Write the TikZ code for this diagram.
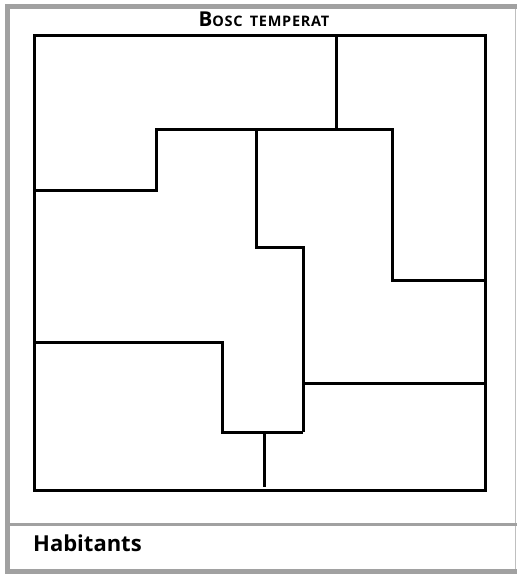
\documentclass[tikz,border=0pt]{standalone}
\usepackage{fontspec}
\setmainfont{Open Sans}
\newfontfamily\titlefont[LetterSpace=5,WordSpace=1.6]{Open Sans}
\tikzset{
  wall/.style={line width=3pt},
  frame/.style={line width=5pt,color=black!37},
  label/.style={inner sep=0pt,font=\bfseries}
}
\begin{document}
\begin{tikzpicture}[x=1pt,y=-1pt]
\useasboundingbox (0,0) rectangle (517,574);
% frame
\draw[frame] (7.5,4)--(7.5,574);
\draw[frame] (5,6.5)--(517,6.5);
\draw[frame] (5,571.5)--(517,571.5);
\draw[line width=1.5pt,black!25] (515.5,9)--(515.5,569);
\draw[line width=3pt,black!37] (10,524.5)--(517,524.5);
% title and footer
\node[label,anchor=base,font=\titlefont\bfseries] (title) at (264,26.5) {{\fontsize{20.5}{21}\selectfont B}{\fontsize{14.5}{15}\selectfont OSC TEMPERAT}};
\node[label,anchor=base west] (habitants) at (33,551.5) {\fontsize{22}{22}\selectfont Habitants};
% plan
\draw[wall] (34.5,35.5) rectangle (485,490);
\draw[wall] (336,35.5)--(336,129);
\draw[wall] (34.5,190)--(156,190)--(156,129)--(392,129)--(392,280)--(485,280);
\draw[wall] (256,129)--(256,247)--(303,247)--(303,432);
\draw[wall] (34.5,342)--(222,342)--(222,432)--(303,432);
\draw[wall] (303,383)--(485,383);
\draw[wall] (264,432)--(264,487);
\end{tikzpicture}
\end{document}
